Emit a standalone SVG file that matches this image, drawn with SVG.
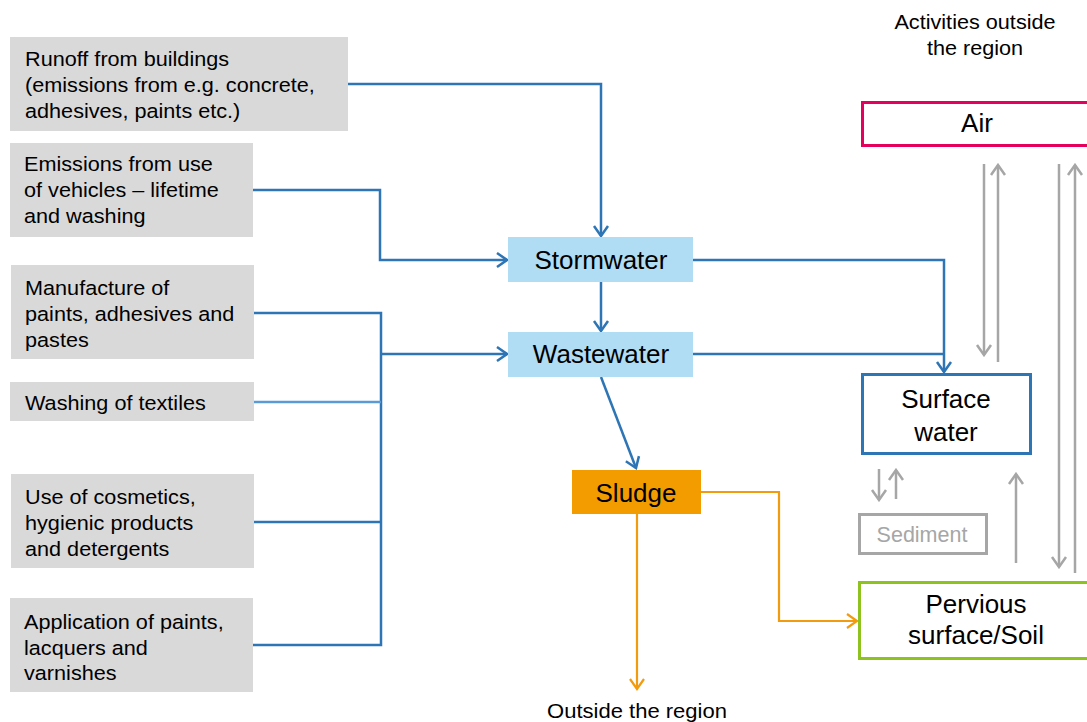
<svg xmlns="http://www.w3.org/2000/svg" width="1087" height="722" viewBox="0 0 1087 722">
<style>
.src{fill:#D9D9D9}
.lt{font-family:"Liberation Sans",Arial,sans-serif;font-size:19.5px;fill:#000}
.big{font-family:"Liberation Sans",Arial,sans-serif;font-size:26px;fill:#000;text-anchor:middle}
.proc{fill:#B0DDF3}
.c{fill:none;stroke-width:2.5;stroke-linejoin:miter}
.blue{stroke:#2E75B6}
.lblue{stroke:#5B9BD5}
.orange{stroke:#F29B0E;stroke-width:2.2}
.gray{stroke:#A6A6A6}
</style>
<defs>
<marker id="ab" viewBox="-12 -9 14 18" refX="0" refY="0" markerWidth="14" markerHeight="18" markerUnits="userSpaceOnUse" orient="auto"><path d="M-10,-7 L0,0 L-10,7" fill="none" stroke="#2E75B6" stroke-width="2.5"/></marker>
<marker id="ao" viewBox="-12 -9 14 18" refX="0" refY="0" markerWidth="14" markerHeight="18" markerUnits="userSpaceOnUse" orient="auto"><path d="M-10,-7 L0,0 L-10,7" fill="none" stroke="#F29B0E" stroke-width="2.2"/></marker>
<marker id="ag" viewBox="-12 -9 14 18" refX="0" refY="0" markerWidth="14" markerHeight="18" markerUnits="userSpaceOnUse" orient="auto"><path d="M-10,-7 L0,0 L-10,7" fill="none" stroke="#A6A6A6" stroke-width="2.5"/></marker>
</defs>
<rect width="1087" height="722" fill="#fff"/>

<g id="title">
<text class="lt" text-anchor="middle" transform="translate(975 0) scale(1.11 1)"><tspan x="0" y="29">Activities outside</tspan><tspan x="0" y="55">the region</tspan></text>
</g>

<g id="connectors">
<polyline class="c blue" points="348,84 601,84 601,236" marker-end="url(#ab)"/>
<polyline class="c blue" points="253,190 380,190 380,260 507,260" marker-end="url(#ab)"/>
<polyline class="c blue" points="254,313 381,313 381,645 253,645"/>
<line class="c lblue" x1="254" y1="402" x2="381" y2="402"/>
<line class="c blue" x1="254" y1="522" x2="381" y2="522"/>
<line class="c blue" x1="381" y1="354" x2="507" y2="354" marker-end="url(#ab)"/>
<line class="c blue" x1="601" y1="282" x2="601" y2="331" marker-end="url(#ab)"/>
<polyline class="c blue" points="693,260 944,260 944,372" marker-end="url(#ab)"/>
<line class="c blue" x1="693" y1="354" x2="944" y2="354"/>
<line class="c blue" x1="601" y1="377" x2="636" y2="468" marker-end="url(#ab)"/>
<polyline class="c orange" points="701,492 779,492 779,621 857,621" marker-end="url(#ao)"/>
<line class="c orange" x1="637" y1="514" x2="637" y2="689" marker-end="url(#ao)"/>
<line class="c gray" x1="984" y1="164" x2="984" y2="355" marker-end="url(#ag)"/>
<line class="c gray" x1="998" y1="362" x2="998" y2="165" marker-end="url(#ag)"/>
<line class="c gray" x1="1059" y1="164" x2="1059" y2="567" marker-end="url(#ag)"/>
<line class="c gray" x1="1075" y1="573" x2="1075" y2="165" marker-end="url(#ag)"/>
<line class="c gray" x1="879" y1="469" x2="879" y2="500" marker-end="url(#ag)"/>
<line class="c gray" x1="896" y1="499" x2="896" y2="470" marker-end="url(#ag)"/>
<line class="c gray" x1="1016" y1="563" x2="1016" y2="474" marker-end="url(#ag)"/>
</g>

<g id="runoff">
<rect class="src" x="10" y="37" width="338" height="94"/>
<text class="lt" transform="translate(25 0) scale(1.11 1)"><tspan x="0" y="66">Runoff  from  buildings</tspan><tspan x="0" y="92">(emissions from e.g. concrete,</tspan><tspan x="0" y="118">adhesives, paints etc.)</tspan></text>
</g>
<g id="vehicles">
<rect class="src" x="10" y="143" width="243" height="94"/>
<text class="lt" transform="translate(24 0) scale(1.11 1)"><tspan x="0" y="171">Emissions from use</tspan><tspan x="0" y="197">of vehicles – lifetime</tspan><tspan x="0" y="223">and washing</tspan></text>
</g>
<g id="manufacture">
<rect class="src" x="11" y="265" width="243" height="94"/>
<text class="lt" transform="translate(25 0) scale(1.11 1)"><tspan x="0" y="295">Manufacture  of</tspan><tspan x="0" y="321">paints, adhesives and</tspan><tspan x="0" y="347">pastes</tspan></text>
</g>
<g id="textiles">
<rect class="src" x="10" y="382" width="244" height="39"/>
<text class="lt" transform="translate(25 0) scale(1.11 1)"><tspan x="0" y="410">Washing  of textiles</tspan></text>
</g>
<g id="cosmetics">
<rect class="src" x="11" y="474" width="243" height="94"/>
<text class="lt" transform="translate(25 0) scale(1.11 1)"><tspan x="0" y="504">Use of cosmetics,</tspan><tspan x="0" y="530">hygienic  products</tspan><tspan x="0" y="556">and  detergents</tspan></text>
</g>
<g id="application">
<rect class="src" x="10" y="598" width="243" height="94"/>
<text class="lt" transform="translate(24 0) scale(1.11 1)"><tspan x="0" y="629">Application of paints,</tspan><tspan x="0" y="655">lacquers  and</tspan><tspan x="0" y="680">varnishes</tspan></text>
</g>

<g id="stormwater">
<rect class="proc" x="508" y="237" width="185" height="45"/>
<text class="big" x="601" y="269">Stormwater</text>
</g>
<g id="wastewater">
<rect class="proc" x="508" y="332" width="185" height="45"/>
<text class="big" x="601" y="363">Wastewater</text>
</g>
<g id="sludge">
<rect x="572" y="470" width="129" height="44" fill="#F39C00"/>
<text class="big" x="636" y="502">Sludge</text>
</g>
<g id="outside">
<text class="lt" text-anchor="middle" transform="translate(637 0) scale(1.13 1)"><tspan x="0" y="718">Outside the region</tspan></text>
</g>

<g id="air">
<rect x="862.5" y="102.5" width="231" height="43" fill="#fff" stroke="#E5005E" stroke-width="3"/>
<text class="big" x="977" y="132">Air</text>
</g>
<g id="surfacewater">
<rect x="862.5" y="374.5" width="168" height="79" fill="#fff" stroke="#2E75B6" stroke-width="3"/>
<text class="big"><tspan x="946" y="408">Surface</tspan><tspan x="946" y="441">water</tspan></text>
</g>
<g id="sediment">
<rect x="859.5" y="514.5" width="127" height="39" fill="#fff" stroke="#A6A6A6" stroke-width="3"/>
<text x="922" y="542" text-anchor="middle" font-family="Liberation Sans, Arial, sans-serif" font-size="21.5" fill="#A6A6A6">Sediment</text>
</g>
<g id="soil">
<rect x="859.5" y="582.5" width="234" height="76" fill="#fff" stroke="#8DC21F" stroke-width="3"/>
<text class="big"><tspan x="976" y="613">Pervious</tspan><tspan x="976" y="644">surface/Soil</tspan></text>
</g>
</svg>
